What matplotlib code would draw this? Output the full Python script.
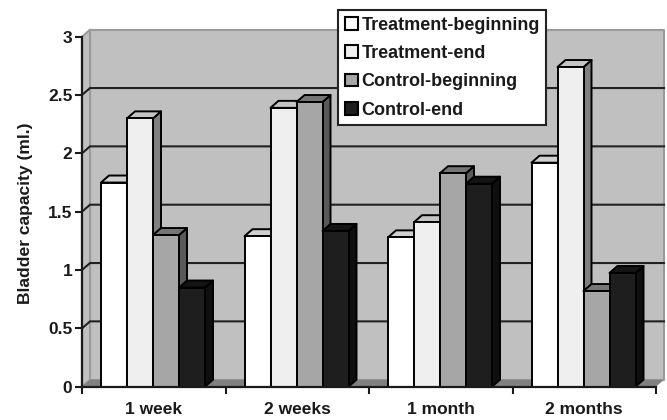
import matplotlib
matplotlib.use("Agg")
import matplotlib.pyplot as plt
from matplotlib.patches import Patch, Polygon

plt.rcParams['font.family'] = ['Liberation Sans', 'DejaVu Sans']
plt.rcParams['font.weight'] = 'bold'

groups = ["1 week", "2 weeks", "1 month", "2 months"]
series = ["Treatment-beginning", "Treatment-end", "Control-beginning", "Control-end"]
treat_begin = [1.75, 1.29, 1.28, 1.92]
treat_end = [2.30, 2.39, 1.41, 2.74]
ctrl_begin = [1.30, 2.44, 1.83, 0.82]
ctrl_end = [0.85, 1.335, 1.74, 0.975]
y_ticks = [0, 0.5, 1, 1.5, 2, 2.5, 3]

front_colors = ["#ffffff", "#efefef", "#a6a6a6", "#1e1e1e"]
side_colors = ["#808080", "#808080", "#5a5a5a", "#0f0f0f"]
top_colors = ["#d0d0d0", "#c4c4c4", "#757575", "#141414"]
wall_color = "#c0c0c0"
ink = "#1a1a1a"

W, H = 667, 420
fig = plt.figure(figsize=(W / 100, H / 100), dpi=100, facecolor="white")
# axes box = front plane of the fake 3d chart, in pixels
ax = fig.add_axes([82 / W, 1 - 386.7 / H, (656 - 82) / W, 350 / H])
ax.set_xlim(0, 4)
ax.set_ylim(0, 3)
ax.patch.set_visible(False)

# depth of the 3d look in data units
dx = 8 / 143.5
dy = 7 / 116.67
bar_w = 26 / 143.5
bar_off = 19 / 143.5


def poly(pts, face, edge="none", lw=0, z=1.0):
    ax.add_patch(Polygon(pts, closed=True, facecolor=face, edgecolor=edge,
                         linewidth=lw, clip_on=False, zorder=z, joinstyle="round"))


# walls and floor
poly([(dx, dy), (4 + dx, dy), (4 + dx, 3 + dy), (dx, 3 + dy)], wall_color, "#9a9a9a", 1.5, 0.1)
poly([(0, 0), (dx, dy), (dx, 3 + dy), (0, 3)], wall_color, "#9a9a9a", 1.5, 0.1)
poly([(0, 0), (4, 0), (4 + dx, dy), (dx, dy)], "#808080", z=0.2)

# gridlines on back wall and left wall
for v in y_ticks[1:-1]:
    ax.plot([0, dx, 4 + dx], [v, v + dy, v + dy], color="#222222", lw=1.5,
            clip_on=False, zorder=0.3, solid_joinstyle="miter")

# bars, left to right so each one covers the side of the one before
values = [treat_begin, treat_end, ctrl_begin, ctrl_end]
z = 1.0
for g in range(len(groups)):
    for s in range(len(series)):
        v = values[s][g]
        x0 = g + bar_off + s * bar_w
        x1 = x0 + bar_w
        z += 0.02
        poly([(x1, 0), (x1 + dx, dy), (x1 + dx, v + dy), (x1, v)], side_colors[s], "black", 1.4, z)
        poly([(x0, v), (x1, v), (x1 + dx, v + dy), (x0 + dx, v + dy)], top_colors[s], "black", 1.4, z)
        ax.bar(x0, v, bar_w, align="edge", color=front_colors[s], edgecolor="black",
               linewidth=1.4, zorder=z + 0.005, clip_on=False)

# axes
for sp in ["top", "right"]:
    ax.spines[sp].set_visible(False)
for sp in ["left", "bottom"]:
    ax.spines[sp].set_linewidth(1.6)
    ax.spines[sp].set_color(ink)
ax.set_yticks(y_ticks)
ax.set_yticklabels(["%g" % t for t in y_ticks], fontsize=12.5, color=ink)
ax.set_xticks(range(5))
ax.set_xticklabels([])
ax.set_xticks([g + 0.5 for g in range(4)], minor=True)
ax.set_xticklabels(groups, minor=True, fontsize=12.5, color=ink)
ax.tick_params(axis="y", length=5, width=1.5, color=ink, pad=2)
ax.tick_params(axis="x", which="major", length=5, width=1.5, color=ink)
ax.tick_params(axis="x", which="minor", length=0, pad=11)
ax.set_ylabel("Bladder capacity (ml.)", fontsize=12.6, color=ink, fontweight="bold")
ax.yaxis.set_label_coords(33 / W, 1 - 213 / H, transform=fig.transFigure)

# legend
handles = [Patch(facecolor=c, edgecolor="black", linewidth=1.5) for c in front_colors]
leg = fig.legend(handles, series, loc="upper left", bbox_to_anchor=(338 / W, 1 - 10 / H),
                 borderaxespad=0, fontsize=13, frameon=True, fancybox=False, framealpha=1,
                 edgecolor="#222222", facecolor="white", labelspacing=0.63, handlelength=0.72,
                 handleheight=0.72, handletextpad=0.22, borderpad=0.36)
leg.get_frame().set_linewidth(1.5)
for t in leg.get_texts():
    t.set_color(ink)

fig.savefig("out.png", dpi=100)
